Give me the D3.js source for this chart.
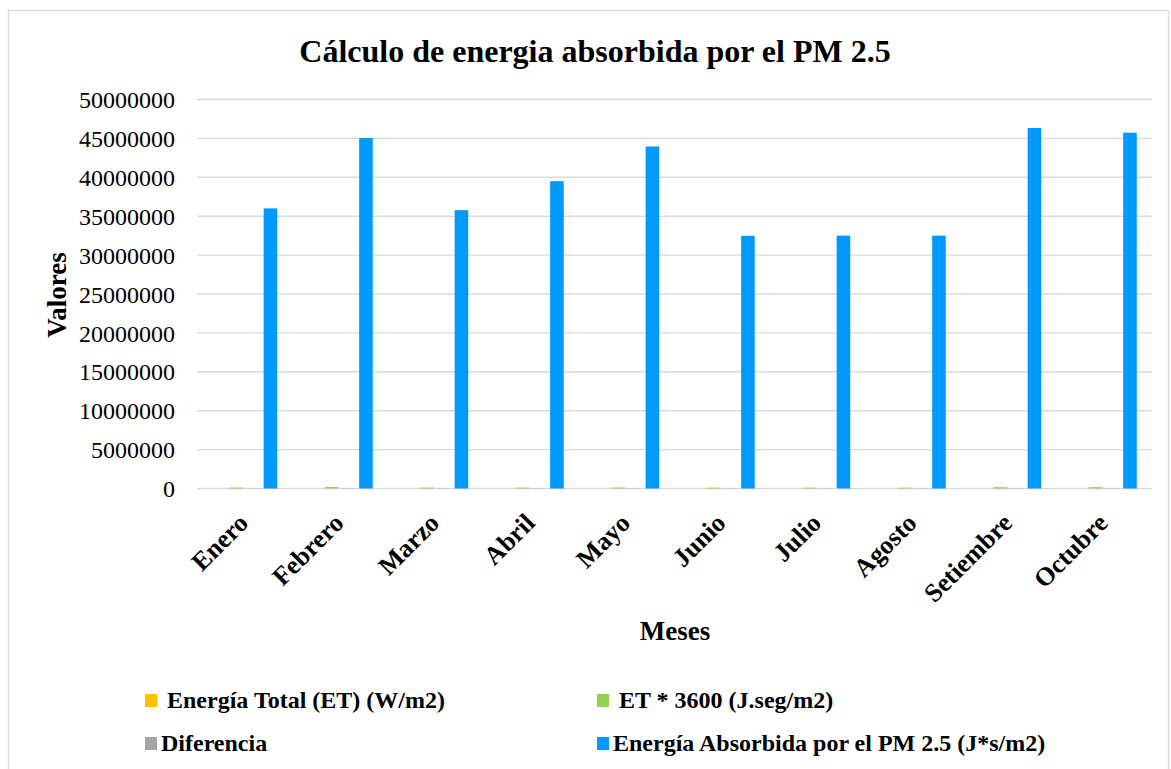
<!DOCTYPE html>
<html>
<head>
<meta charset="utf-8">
<script src="https://cdn.jsdelivr.net/npm/d3@7"></script>
<style>
  html, body { margin: 0; padding: 0; background: #fff; }
  svg { display: block; font-family: "Liberation Serif", "Times New Roman", serif; }
</style>
</head>
<body>
<svg id="chart" width="1171" height="769"></svg>
<script>
// Months on the category axis
const months = ["Enero", "Febrero", "Marzo", "Abril", "Mayo", "Junio", "Julio", "Agosto", "Setiembre", "Octubre"];

// Series values per month
const energiaTotal = [35, 52, 31, 30, 34, 28, 28, 28, 45, 47];
const et3600 = [120000, 190000, 110000, 110000, 120000, 100000, 100000, 100000, 160000, 170000];
const diferencia = [20000, 25000, 18000, 18000, 20000, 16000, 16000, 16000, 22000, 22000];
const absorbida = [36000000, 45050000, 35780000, 39500000, 43960000, 32480000, 32500000, 32500000, 46340000, 45730000];

// Y axis tick values
const yTicks = [0, 5000000, 10000000, 15000000, 20000000, 25000000, 30000000, 35000000, 40000000, 45000000, 50000000];

const seriesNames = [" Energía Total (ET) (W/m2)", " ET * 3600 (J.seg/m2)", "Diferencia", "Energía Absorbida por el PM 2.5 (J*s/m2)"];
const seriesColors = ["#FFC000", "#92D050", "#A5A5A5", "#0099FF"];
const seriesData = [energiaTotal, et3600, diferencia, absorbida];

const svg = d3.select("#chart");

// Chart frame
svg.append("rect")
  .attr("x", 8.5).attr("y", 10.5)
  .attr("width", 1160).attr("height", 770)
  .attr("fill", "#fff").attr("stroke", "#d9d9d9").attr("stroke-width", 1.3);

const plot = { left: 197, right: 1152, top: 99.5, bottom: 488.5 };

const x0 = d3.scaleBand().domain(months).range([plot.left, plot.right]).padding(0);
const x1 = d3.scaleBand().domain(d3.range(seriesNames.length)).range([-32.5, 32.5]).paddingInner(0.207).paddingOuter(0);
const y = d3.scaleLinear().domain([0, 50000000]).range([plot.bottom, plot.top]);

// Horizontal gridlines
svg.append("g")
  .selectAll("line")
  .data(yTicks)
  .join("line")
  .attr("x1", plot.left).attr("x2", plot.right)
  .attr("y1", d => y(d)).attr("y2", d => y(d))
  .attr("stroke", "#d9d9d9").attr("stroke-width", 1.4);

// Y axis labels
const yAxis = d3.axisLeft(y).tickValues(yTicks).tickFormat(d3.format("d")).tickSize(0).tickPadding(0);
const yg = svg.append("g").attr("transform", `translate(175,0)`).call(yAxis);
yg.select(".domain").remove();
yg.selectAll("text")
  .attr("font-family", "Liberation Serif, serif")
  .attr("font-size", 24)
  .attr("fill", "#000")
  .attr("dy", "0.34em");

// Bars
const groups = svg.append("g")
  .selectAll("g")
  .data(months)
  .join("g")
  .attr("transform", d => `translate(${x0(d) + x0.bandwidth() / 2},0)`);

groups.selectAll("rect")
  .data((m, i) => seriesData.map((s, k) => ({ k, v: s[i] })))
  .join("rect")
  .attr("x", d => x1(d.k))
  .attr("width", x1.bandwidth())
  .attr("y", d => y(d.v))
  .attr("height", d => y(0) - y(d.v))
  .attr("fill", d => seriesColors[d.k]);

// Month labels, rotated
const xAxis = d3.axisBottom(x0).tickSize(0).tickPadding(0);
const xg = svg.append("g").attr("transform", `translate(0,${plot.bottom})`).call(xAxis);
xg.select(".domain").remove();
xg.selectAll("text")
  .attr("font-family", "Liberation Serif, serif")
  .attr("font-size", 26)
  .attr("font-weight", "bold")
  .attr("fill", "#000")
  .attr("text-anchor", "end")
  .attr("dy", null)
  .attr("y", null)
  .attr("transform", "translate(5,36) rotate(-45)");

// Title
svg.append("text")
  .attr("x", 595).attr("y", 62)
  .attr("text-anchor", "middle")
  .attr("font-size", 32).attr("font-weight", "bold")
  .text("Cálculo de energia absorbida por el PM 2.5");

// Axis titles
svg.append("text")
  .attr("transform", "translate(66,295) rotate(-90)")
  .attr("text-anchor", "middle")
  .attr("font-size", 27).attr("font-weight", "bold")
  .text("Valores");

svg.append("text")
  .attr("x", 675).attr("y", 640)
  .attr("text-anchor", "middle")
  .attr("font-size", 27).attr("font-weight", "bold")
  .text("Meses");

// Legend
const legendPos = [
  { x: 145, y: 694 },
  { x: 597, y: 694 },
  { x: 145, y: 737 },
  { x: 597, y: 737 }
];
const legend = svg.append("g")
  .selectAll("g")
  .data(seriesNames)
  .join("g")
  .attr("transform", (d, i) => `translate(${legendPos[i].x},${legendPos[i].y})`);
legend.append("rect")
  .attr("width", 12).attr("height", 13)
  .attr("fill", (d, i) => seriesColors[i]);
legend.append("text")
  .attr("x", 16).attr("y", 14)
  .attr("font-size", 24).attr("font-weight", "bold")
  .attr("xml:space", "preserve")
  .style("white-space", "pre")
  .text(d => d);
</script>
</body>
</html>
